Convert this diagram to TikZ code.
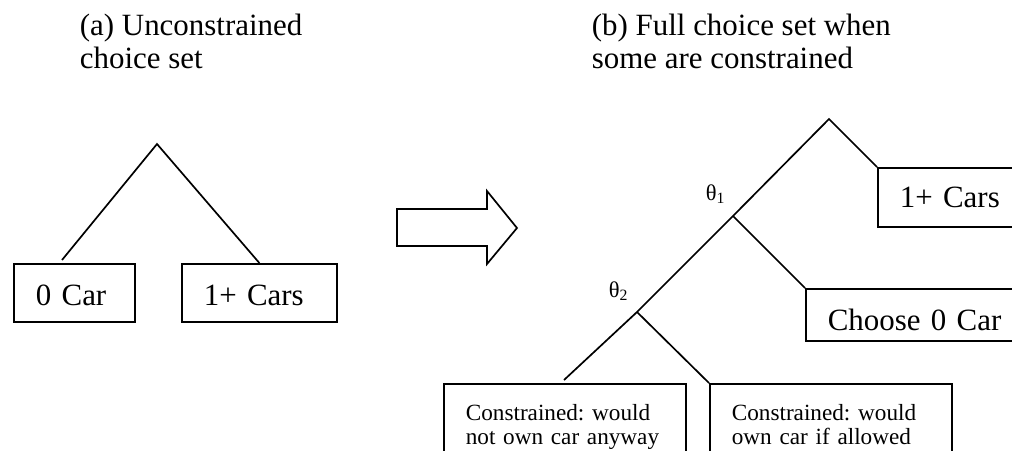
\documentclass[tikz,border=0pt]{standalone}
\usepackage{fontspec}
\setmainfont{Liberation Serif}
\frenchspacing

\tikzset{
  choice/.style={draw, rectangle, anchor=north west, align=left,
    inner xsep=0.55cm, inner ysep=0pt, font=\fontsize{22}{23}\selectfont},
  small choice/.style={choice, font=\fontsize{16.5}{16.5}\selectfont},
  title/.style={anchor=base west, align=left, inner sep=0pt,
    font=\fontsize{22}{23}\selectfont},
  nest/.style={anchor=base west, inner sep=0pt, font=\fontsize{16}{16}\selectfont},
}

\begin{document}
\begin{tikzpicture}[x=0.025cm, y=-0.025cm, line width=1.2pt]
	\useasboundingbox (0,0) rectangle (1012,450);
	\clip (0,0) rectangle (1012,450);

	% (a) unconstrained
	\node[title] (ta) at (79,68) {(a) Unconstrained\\choice set};
	\node[choice, text width=1.925cm, text height=1.05cm, text depth=0.4cm] (car0) at (13,263) {0 Car};
	\node[choice, text width=2.775cm, text height=1.05cm, text depth=0.4cm] (cars1) at (181,263) {1+ Cars};
	\coordinate (atop) at (157,144);
	\coordinate (a0) at (62,260);
	\draw (a0) -- (atop) -- (cars1.north);

	% block arrow
	\draw (397,209) -- (487,209) -- (487,191) -- (517,228) -- (487,264) -- (487,246) -- (397,246) -- cycle;

	% (b) with constrained households
	\node[title] (tb) at (591,68) {(b) Full choice set when\\some are constrained};
	\node[choice, text width=3.4cm, text height=1.0cm, text depth=0.475cm] (rcars1) at (877,167) {1+ Cars};
	\node[choice, text width=5.4cm, text height=1.05cm, text depth=0.25cm] (rcar0) at (805,288) {Choose 0 Car};
	\node[small choice, text width=4.95cm, text height=0.925cm, text depth=1.25cm] (cnone) at (443,383) {Constrained: would\\not own car anyway};
	\node[small choice, text width=4.95cm, text height=0.925cm, text depth=1.25cm] (cown) at (709,383) {Constrained: would\\own car if allowed};
	\coordinate (btop) at (829,119);
	\coordinate (nest1) at (733,216);
	\coordinate (nest2) at (637,312);
	\coordinate (b0) at (564,380);
	\draw (rcars1.north west) -- (btop) -- (nest1) -- (nest2) -- (b0);
	\draw (nest1) -- (rcar0.north west);
	\draw (nest2) -- (cown.north west);
	\node[nest] (th1) at (705,200) {θ\textsubscript{1}};
	\node[nest] (th2) at (608,297) {θ\textsubscript{2}};
\end{tikzpicture}
\end{document}
